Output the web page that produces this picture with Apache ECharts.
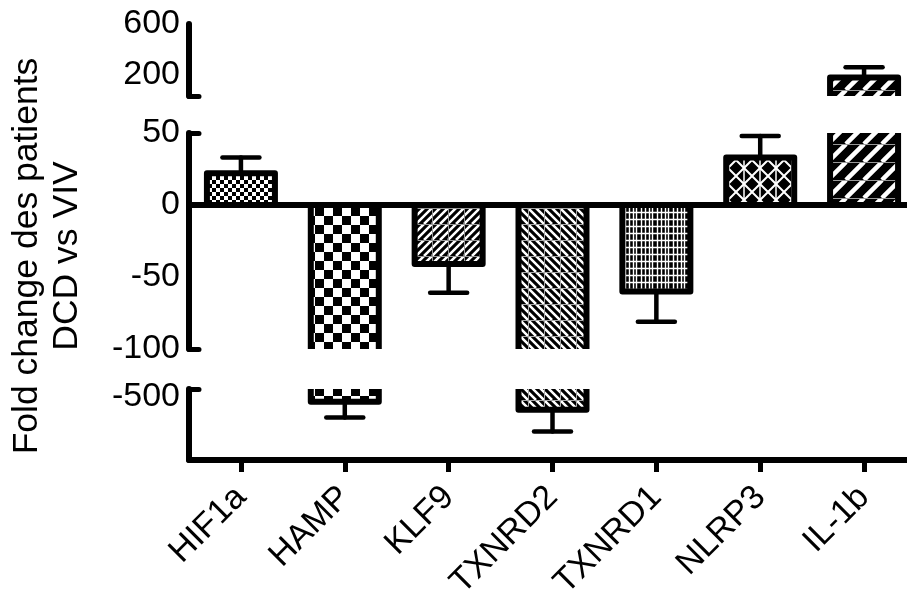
<!DOCTYPE html>
<html>
<head>
<meta charset="utf-8">
<script src="https://cdn.jsdelivr.net/npm/echarts@6/dist/echarts.min.js"></script>
<style>
  html, body { margin: 0; padding: 0; background: #fff; }
  #chart { width: 907px; height: 590px; }
</style>
</head>
<body>
<div id="chart"></div>
<script>
// genes and fold changes (DCD vs VIV)
var categories = ['HIF1a', 'HAMP', 'KLF9', 'TXNRD2', 'TXNRD1', 'NLRP3', 'IL-1b'];
var means = [22, -540, -41, -603, -60, 33, 180];
var errors = [11, 124, 20, 172, 21, 15, 80];

// broken y axis: three segments
var topRange = [35, 600];
var midRange = [-100, 50];
var lowRange = [-1000, -440];
var topLabels = [200, 600];
var midLabels = [-100, -50, 0, 50];
var lowLabels = [-500];

var FONT = '"Liberation Sans", Arial, sans-serif';

/** small canvas tiles used as bar fill patterns */
function tile(w, h, bg, draw) {
    var c = document.createElement('canvas');
    c.width = w; c.height = h;
    var ctx = c.getContext('2d');
    ctx.fillStyle = bg;
    ctx.fillRect(0, 0, w, h);
    draw(ctx, w, h);
    return { image: c, repeat: 'repeat' };
}
function diag(ctx, size, step, dir, width, color) {
    ctx.strokeStyle = color;
    ctx.lineWidth = width;
    ctx.beginPath();
    for (var k = -size; k <= size * 2; k += step) {
        if (dir > 0) { ctx.moveTo(k, size); ctx.lineTo(k + size, 0); }
        else { ctx.moveTo(k, 0); ctx.lineTo(k + size, size); }
    }
    ctx.stroke();
}
function gridLines(ctx, w, h, color, width) {
    ctx.strokeStyle = color;
    ctx.lineWidth = width;
    ctx.beginPath();
    ctx.moveTo(0.5, 0); ctx.lineTo(0.5, h);
    ctx.moveTo(0, 0.5); ctx.lineTo(w, 0.5);
    ctx.stroke();
}

var patterns = [
    tile(8, 8, '#fff', function (ctx) {
        ctx.fillStyle = '#000';
        ctx.fillRect(0, 0, 4, 4); ctx.fillRect(4, 4, 4, 4);
    }),
    tile(18, 18, '#fff', function (ctx) {
        ctx.fillStyle = '#000';
        ctx.fillRect(0, 0, 9, 9); ctx.fillRect(9, 9, 9, 9);
    }),
    tile(16, 16, '#000', function (ctx, w, h) {
        diag(ctx, 16, 8, 1, 2.5, '#fff');
        gridLines(ctx, w, h, '#999', 1);
    }),
    tile(16, 16, '#000', function (ctx, w, h) {
        diag(ctx, 16, 8, -1, 2.5, '#fff');
        gridLines(ctx, w, h, '#aaa', 1);
    }),
    tile(16, 14, '#000', function (ctx, w, h) {
        ctx.strokeStyle = '#fff';
        ctx.lineWidth = 1.4;
        ctx.beginPath();
        [1.5, 5.5, 9.5, 12.5].forEach(function (x) { ctx.moveTo(x, 0); ctx.lineTo(x, h); });
        [2.5, 9.5].forEach(function (y) { ctx.moveTo(0, y); ctx.lineTo(w, y); });
        ctx.stroke();
    }),
    tile(16, 16, '#000', function (ctx, w, h) {
        diag(ctx, 16, 16, 1, 2, '#fff');
        diag(ctx, 16, 16, -1, 2, '#fff');
        ctx.strokeStyle = '#fff';
        ctx.lineWidth = 1.5;
        ctx.beginPath();
        ctx.moveTo(8, 0); ctx.lineTo(8, h);
        ctx.stroke();
    }),
    tile(18, 18, '#000', function (ctx, w, h) {
        diag(ctx, 18, 18, 1, 4.5, '#fff');
        ctx.strokeStyle = '#999';
        ctx.lineWidth = 1;
        ctx.beginPath();
        ctx.moveTo(0, 0.5); ctx.lineTo(w, 0.5);
        ctx.stroke();
    })
];

var chart = echarts.init(document.getElementById('chart'), null, { renderer: 'canvas' });

var gridsPx = [
    { left: 189, width: 727, top: 24, height: 72, outerBoundsMode: 'none', containLabel: false },
    { left: 189, width: 727, top: 133, height: 216, outerBoundsMode: 'none', containLabel: false },
    { left: 189, width: 727, top: 389, height: 71, outerBoundsMode: 'none', containLabel: false }
];
var ranges = [topRange, midRange, lowRange];
var labelSets = [topLabels, midLabels, lowLabels];
var capTicks = [[topRange[0]], [midRange[1], midRange[0]], [lowRange[1]]];

var barItems = categories.map(function (c, i) {
    var sign = means[i] >= 0 ? 1 : -1;
    return [i, means[i], means[i] + sign * errors[i]];
});

// bar end strictly inside the grid it is drawn in
function inGrid(params, y) {
    var cs = params.coordSys;
    return y > cs.y + 2 && y < cs.y + cs.height - 2;
}

var BAR_W = 68;
function renderBar(params, api) {
    var i = api.value(0);
    var base = api.coord([i, 0]);
    var end = api.coord([i, api.value(1)]);
    var cs = params.coordSys;
    var y0 = Math.min(base[1], end[1]), y1 = Math.max(base[1], end[1]);
    if (y1 <= cs.y || y0 >= cs.y + cs.height) return null;
    return {
        type: 'rect',
        shape: { x: end[0] - BAR_W / 2, y: y0, width: BAR_W, height: y1 - y0 },
        style: { fill: patterns[i], stroke: '#000', lineWidth: 6, lineJoin: 'round' }
    };
}
function renderError(params, api) {
    var i = api.value(0);
    var p0 = api.coord([i, api.value(1)]);
    var p1 = api.coord([i, api.value(2)]);
    if (!inGrid(params, p0[1])) return null;
    var half = 18.5;
    var st = { stroke: '#000', lineWidth: 4.5, lineCap: 'round' };
    return {
        type: 'group',
        children: [
            { type: 'line', shape: { x1: p0[0], y1: p0[1], x2: p1[0], y2: p1[1] }, style: st },
            { type: 'line', shape: { x1: p1[0] - half, y1: p1[1], x2: p1[0] + half, y2: p1[1] }, style: st }
        ]
    };
}

var xAxes = [], yAxes = [], series = [];
for (var g = 0; g < 3; g++) {
    var isLow = g === 2;
    xAxes.push({
        type: 'category',
        gridIndex: g,
        data: categories,
        show: g !== 0,
        axisLine: {
            show: true,
            onZero: g === 1,
            lineStyle: { color: '#000', width: 6 }
        },
        axisTick: {
            show: isLow,
            alignWithLabel: true,
            length: 12,
            lineStyle: { color: '#000', width: 5 }
        },
        axisLabel: {
            show: isLow,
            rotate: 45,
            margin: 32,
            color: '#000',
            fontSize: 34,
            fontFamily: FONT
        },
        splitLine: { show: false }
    });
    yAxes.push({
        type: 'value',
        gridIndex: g,
        min: ranges[g][0],
        max: ranges[g][1],
        axisLine: { show: true, lineStyle: { color: '#000', width: 6, cap: 'round' } },
        axisTick: {
            show: true,
            inside: true,
            length: 10,
            customValues: capTicks[g],
            lineStyle: { color: '#000', width: 5, cap: 'round' }
        },
        axisLabel: {
            customValues: labelSets[g],
            margin: 9,
            color: '#000',
            fontSize: 34,
            fontFamily: FONT
        },
        splitLine: { show: false }
    });
    series.push({
        type: 'custom',
        xAxisIndex: g,
        yAxisIndex: g,
        clip: true,
        renderItem: renderBar,
        data: barItems,
        silent: true,
        animation: false,
        z: 2
    });
    series.push({
        type: 'custom',
        xAxisIndex: g,
        yAxisIndex: g,
        clip: true,
        renderItem: renderError,
        data: barItems,
        silent: true,
        animation: false,
        z: 1
    });
}

var option = {
    backgroundColor: '#fff',
    animation: false,
    grid: gridsPx,
    xAxis: xAxes,
    yAxis: yAxes,
    series: series,
    graphic: [{
        type: 'text',
        x: 47,
        y: 256,
        rotation: Math.PI / 2,
        style: {
            text: 'Fold change des patients\nDCD vs VIV',
            fontSize: 35.5,
            fontFamily: FONT,
            lineHeight: 40,
            align: 'center',
            verticalAlign: 'middle',
            fill: '#000'
        }
    }]
};

option && chart.setOption(option);
</script>
</body>
</html>
